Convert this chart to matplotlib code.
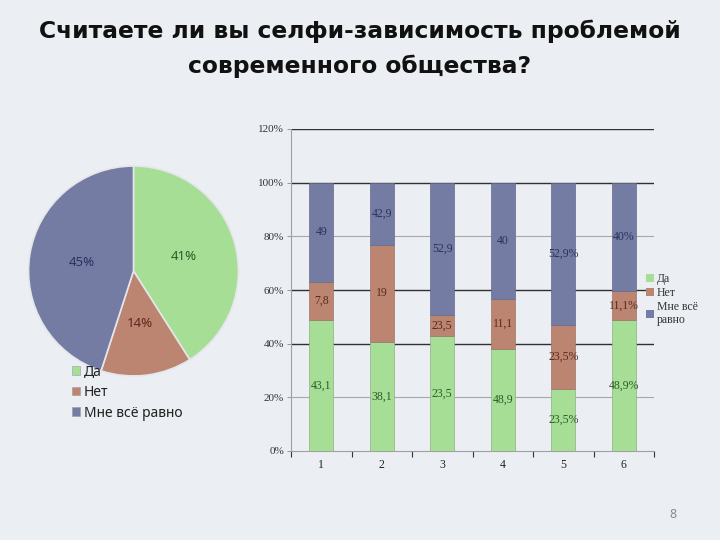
import matplotlib
matplotlib.use("Agg")
import matplotlib.pyplot as plt
from matplotlib.patches import Patch
import numpy as np

# ---------------- data ----------------
title = "Считаете ли вы селфи-зависимость проблемой\nсовременного общества?"
answers = ["Да", "Нет", "Мне всё равно"]
pie_values = [41, 14, 45]

groups = ["1", "2", "3", "4", "5", "6"]
# drawn segment heights (percent) as seen in the picture
yes_heights = [48.8, 40.7, 42.9, 37.9, 23.2, 48.7]
no_heights = [14.1, 36.2, 7.9, 18.9, 23.8, 10.9]
indiff_heights = [37.1, 23.1, 49.2, 43.2, 53.0, 40.4]
# printed data labels
yes_labels = ["43,1", "38,1", "23,5", "48,9", "23,5%", "48,9%"]
no_labels = ["7,8", "19", "23,5", "11,1", "23,5%", "11,1%"]
indiff_labels = ["49", "42,9", "52,9", "40", "52,9%", "40%"]
y_ticks = [0, 20, 40, 60, 80, 100, 120]
y_ticklabels = ["0%", "20%", "40%", "60%", "80%", "100%", "120%"]
bar_legend_labels = ["Да", "Нет", "Мне всё\nравно"]

# ---------------- style ----------------
BG = "#EBEEF2"
GREEN = "#A6DE96"
BROWN = "#BB8572"
BLUE = "#747CA4"
GREEN_T = "#2E5A28"
BROWN_T = "#5A2A1C"
BLUE_T = "#28325E"
SERIF = ["Liberation Serif", "DejaVu Serif"]
SANS = ["Noto Sans", "DejaVu Sans"]

fig = plt.figure(figsize=(7.2, 5.4), dpi=100, facecolor=BG)
W, H = 720.0, 540.0

# title
fig.text(0.5, 1 - 49 / H, title, ha="center", va="center", fontsize=16.8,
         fontweight="bold", family=["DejaVu Sans"],
         color="#111111", linespacing=1.65)

# ---------------- pie ----------------
cx, cy, r = 133.5, 271.0, 106.0
axp = fig.add_axes([(cx - r) / W, 1 - (cy + r) / H, 2 * r / W, 2 * r / H])
axp.set_facecolor(BG)
wedges, texts, autotexts = axp.pie(
    pie_values, colors=[GREEN, BROWN, BLUE], startangle=90, counterclock=False,
    autopct="%d%%", pctdistance=0.5, radius=1.0,
    wedgeprops=dict(edgecolor="#E4E6EA", linewidth=1.2),
    textprops=dict(fontsize=9.5, family=SANS))
for t, c in zip(autotexts, [GREEN_T, BROWN_T, BLUE_T]):
    t.set_color(c)
axp.set_xlim(-1.01, 1.01)
axp.set_ylim(-1.01, 1.01)
axp.set_aspect("equal")
axp.axis("off")

pie_handles = [Patch(facecolor=c, edgecolor="#9a9aa0", linewidth=0.4)
               for c in [GREEN, BROWN, BLUE]]
fig.legend(pie_handles, answers, loc="upper left",
           bbox_to_anchor=(72 / W, 1 - 364 / H), frameon=False,
           prop=dict(family=SANS, size=10), handlelength=0.6, handleheight=0.6,
           handletextpad=0.25, labelspacing=0.42, borderpad=0, borderaxespad=0,
           labelcolor="#222222")

# ---------------- stacked bars ----------------
left, right, top, bottom = 291.0, 654.0, 129.0, 451.0
ax = fig.add_axes([left / W, 1 - bottom / H, (right - left) / W, (bottom - top) / H])
ax.set_facecolor(BG)
x = np.arange(1, len(groups) + 1)
bw = 0.4
yes = np.array(yes_heights)
no = np.array(no_heights)
ind = np.array(indiff_heights)
b1 = ax.bar(x, yes, bw, color=GREEN, edgecolor="#8FAF88", linewidth=0.5, zorder=3)
b2 = ax.bar(x, no, bw, bottom=yes, color=BROWN, edgecolor="#9C7566", linewidth=0.5, zorder=3)
b3 = ax.bar(x, ind, bw, bottom=yes + no, color=BLUE, edgecolor="#646A8C", linewidth=0.5, zorder=3)
for bars, labs, col in [(b1, yes_labels, GREEN_T), (b2, no_labels, BROWN_T), (b3, indiff_labels, BLUE_T)]:
    ax.bar_label(bars, labels=labs, label_type="center", fontsize=8.5,
                 family=SERIF, color=col, zorder=4)

ax.set_xlim(0.5, len(groups) + 0.5)
ax.set_ylim(0, 120)
ax.set_yticks(y_ticks)
ax.set_yticklabels(y_ticklabels, family=SERIF, fontsize=8, color="#333333")
ax.set_xticks(x)
ax.set_xticklabels(groups, family=SERIF, fontsize=8.5, color="#222222")
ax.set_xticks(np.arange(0.5, len(groups) + 1, 1.0), minor=True)
ax.tick_params(axis="x", which="major", length=0, pad=6)
ax.tick_params(axis="x", which="minor", length=4, width=0.8, color="#333333", direction="out")
ax.tick_params(axis="y", length=3, width=0.6, color="#888888", pad=2)

ax.yaxis.grid(True, zorder=1)
for val, gl in zip(y_ticks, ax.get_ygridlines()):
    if val in (20, 80):
        gl.set_color("#A8A8A8"); gl.set_linewidth(0.8)
    elif val == 0:
        gl.set_visible(False)
    else:
        gl.set_color("#303030"); gl.set_linewidth(1.0)
ax.set_axisbelow(True)
for s in ["top", "right"]:
    ax.spines[s].set_visible(False)
ax.spines["left"].set_color("#A0A0A0")
ax.spines["left"].set_linewidth(0.8)
ax.spines["bottom"].set_color("#A0A0A0")
ax.spines["bottom"].set_linewidth(0.8)

bar_handles = [Patch(facecolor=c, edgecolor="none") for c in [GREEN, BROWN, BLUE]]
fig.legend(bar_handles, bar_legend_labels, loc="upper left",
           bbox_to_anchor=(646 / W, 1 - 273 / H), frameon=False,
           prop=dict(family=SERIF, size=8.5), handlelength=0.7, handleheight=0.7,
           handletextpad=0.2, labelspacing=0.15, borderpad=0, borderaxespad=0,
           labelcolor="#333333")

# page number
fig.text(673 / W, 1 - 515 / H, "8", ha="center", va="center", fontsize=9,
         color="#8A8A8A", family=SANS)

fig.savefig("out.png", dpi=100, facecolor=BG)
